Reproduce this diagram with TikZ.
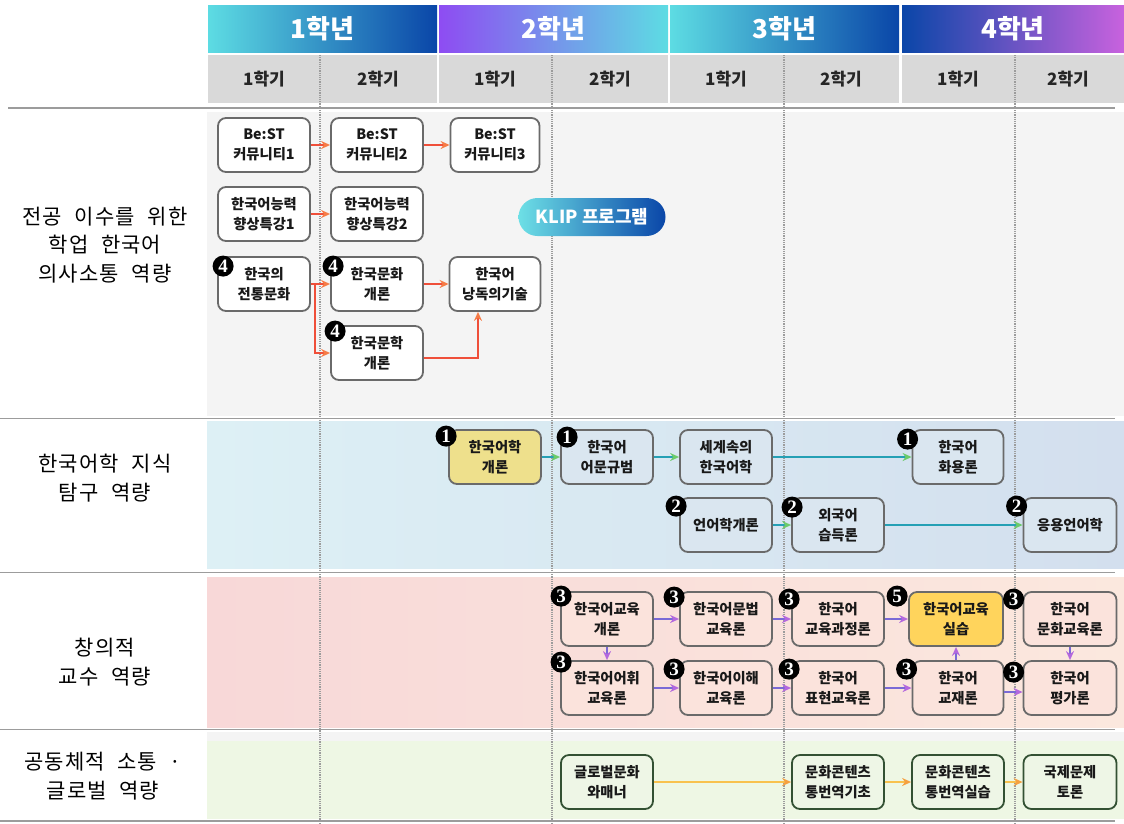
\documentclass[tikz,border=0pt]{standalone}
\usepackage{fontspec}
\setmainfont{Noto Sans CJK KR}
\newfontfamily\labelfont{Noto Sans CJK KR}[LetterSpace=5,WordSpace=2.2]
\newfontfamily\numfont{Liberation Serif}
\usetikzlibrary{arrows.meta, positioning}

\definecolor{boxgray}{HTML}{6A6A6A}
\definecolor{headgray}{HTML}{D9D9D9}
\definecolor{rulegray}{HTML}{9C9C9C}
\definecolor{aqua}{HTML}{5DDCE3}
\definecolor{navyblue}{HTML}{0A46A8}
\definecolor{yrviolet}{HTML}{8E4CF2}
\definecolor{orchid}{HTML}{C862DE}
\definecolor{bandgray}{HTML}{F4F4F4}
\definecolor{bluel}{HTML}{DDF0F5}
\definecolor{bluer}{HTML}{D3DFEE}
\definecolor{pinkl}{HTML}{F8D8D8}
\definecolor{pinkr}{HTML}{FBE8DE}
\definecolor{greenbg}{HTML}{EEF7E4}
\definecolor{bluebox}{HTML}{DAE6F0}
\definecolor{pinkbox}{HTML}{FBE3DC}
\definecolor{greenbox}{HTML}{EEF6E6}
\definecolor{khaki}{HTML}{EEE08C}
\definecolor{gold}{HTML}{FFD45C}
\definecolor{redline}{HTML}{EF4F3A}
\definecolor{redtip}{HTML}{F67C46}
\definecolor{tealline}{HTML}{25A0B5}
\definecolor{greentip}{HTML}{6CCB6A}
\definecolor{purpline}{HTML}{7A6AD6}
\definecolor{purptip}{HTML}{B468DE}
\definecolor{yellowline}{HTML}{F8C24E}
\definecolor{orangetip}{HTML}{F5A040}

\begin{document}
\begin{tikzpicture}[x=1pt, y=-1pt, on grid,
    course/.style={draw=boxgray, line width=1.8pt, rounded corners=8pt, fill=white,
      minimum width=92pt, minimum height=54pt, align=center, inner sep=1pt,
      text=black!90, font=\bfseries\fontsize{14.3}{20}\selectfont},
    badge/.style={circle, fill=black, text=white, inner sep=0pt, minimum size=21pt,
      font=\numfont\bfseries\fontsize{19}{19}\selectfont},
    yearbox/.style={minimum width=229pt, minimum height=47pt, inner sep=0pt,
      text=white, font=\bfseries\fontsize{26}{26}\selectfont},
    semrow/.style={fill=headgray, minimum width=229pt, minimum height=48pt, inner sep=0pt},
    semtext/.style={font=\bfseries\fontsize{17}{17}\selectfont, text=black!85},
    area/.style={align=center, font=\labelfont\fontsize{21}{28.5}\selectfont},
    klip/.style={rounded corners=19pt, left color=aqua!90, right color=navyblue,
      minimum width=147pt, minimum height=38pt, text=white,
      font=\bfseries\fontsize{18}{18}\selectfont},
    redarr/.style={draw=redline, line width=1.6pt, -{Stealth[length=9pt,width=8pt,color=redtip]}},
    greenarr/.style={draw=tealline, line width=1.6pt, -{Stealth[length=9pt,width=8pt,color=greentip]}},
    purparr/.style={draw=purpline, line width=1.6pt, -{Stealth[length=9pt,width=8pt,color=purptip]}},
    yellowarr/.style={draw=yellowline, line width=1.6pt, -{Stealth[length=9pt,width=8pt,color=orangetip]}}]
  \useasboundingbox (0,0) rectangle (1124,823);

  % bands
  \fill[bandgray] (207,112) rectangle (1124,416);
  \fill[left color=bluel, right color=bluer] (207,421) rectangle (1124,568);
  \fill[left color=pinkl, right color=pinkr] (207,577) rectangle (1124,727);
  \fill[bandgray] (207,732) rectangle (1124,741);
  \fill[greenbg] (207,741) rectangle (1124,819);

  % header
  \node[yearbox, left color=aqua, right color=navyblue] (y_1) at (322.5,28.5) {1학년};
  \node[yearbox, left color=yrviolet, right color=aqua] (y_2) at (553.5,28.5) {2학년};
  \node[yearbox, left color=aqua, right color=navyblue] (y_3) at (784.5,28.5) {3학년};
  \node[yearbox, minimum width=222pt, left color=navyblue, right color=orchid] (y_4) at (1013,28.5) {4학년};
  \foreach \cx/\w [count=\i] in {322.5/229, 553.5/229, 784.5/229, 1013/222}
    \node[semrow, minimum width=\w pt] (g_\i) at (\cx,79) {};
  \foreach \cx/\s [count=\i] in {264/1, 378/2, 495/1, 610/2, 726/1, 841/2, 958/1, 1068/2}
    \node[semtext] (s_\i) at (\cx,79) {\s 학기};

  % rules
  \foreach \gx in {320, 552, 784, 1015}
    \draw[rulegray, line width=1.2pt, densely dotted] (\gx,55) -- (\gx,823);
  \draw[rulegray, line width=1.5pt] (8,108) -- (1115,108);
  \foreach \gy in {418.5, 572.5, 729.5, 821}
    \draw[rulegray, line width=1.5pt] (0,\gy) -- (1115,\gy);

  % competences
  \node[area] (a_1) at (105,245) {전공 이수를 위한\\학업 한국어\\의사소통 역량};
  \node[area] (a_2) at (105,478) {한국어학 지식\\탐구 역량};
  \node[area] (a_3) at (105,662) {창의적\\교수 역량};
  \node[area] (a_4) at (103,776) {공동체적 소통 ·\\글로벌 역량};

  % band 1
  \node[course] (b_1) at (264,145) {Be:ST\\커뮤니티1};
  \node[course, right=113pt of b_1] (b_2) {Be:ST\\커뮤니티2};
  \node[course, minimum width=89pt, right=118pt of b_2] (b_3) {Be:ST\\커뮤니티3};
  \node[course, below=69pt of b_1] (k_1) {한국어능력\\향상특강1};
  \node[course, right=113pt of k_1] (k_2) {한국어능력\\향상특강2};
  \node[course, below=70pt of k_1] (t_1) {한국의\\전통문화};
  \node[course, right=113pt of t_1] (c_1) {한국문화\\개론};
  \node[course, minimum width=91pt, right=118pt of c_1] (r_1) {한국어\\낭독의기술};
  \node[course, below=69pt of c_1] (l_1) {한국문학\\개론};
  \node[klip] (klip) at (592,217) {KLIP 프로그램};
  \node[badge] (n_t1) at ([shift={(6,10)}]t_1.north west) {4};
  \node[badge] (n_c1) at ([shift={(3,10)}]c_1.north west) {4};
  \node[badge] (n_l1) at ([shift={(5,6)}]l_1.north west) {4};
  \draw[redarr] (b_1) -- (b_2);
  \draw[redarr] (b_2) -- (b_3);
  \draw[redarr] (k_1) -- (k_2);
  \draw[redarr] (c_1) -- (r_1);
  \coordinate (split) at ([xshift=4pt]t_1.east);
  \draw[redarr] (t_1.east) -- (c_1.west);
  \draw[redarr] (split) |- (l_1.west);
  \draw[redarr] ([yshift=-5pt]l_1.east) -| ([xshift=-17pt]r_1.south);

  % band 2
  \node[course, fill=khaki] (g_1) at (495,457) {한국어학\\개론};
  \node[course, fill=bluebox, right=112pt of g_1] (g_2) {한국어\\어문규범};
  \node[course, fill=bluebox, right=119pt of g_2] (g_3) {세계속의\\한국어학};
  \node[course, fill=bluebox, minimum width=91pt, right=232pt of g_3] (g_4) {한국어\\화용론};
  \node[course, fill=bluebox, below=68pt of g_3] (h_1) {언어학개론};
  \node[course, fill=bluebox, right=112pt of h_1] (h_2) {외국어\\습득론};
  \node[course, fill=bluebox, minimum width=93pt, right=232pt of h_2] (h_3) {응용언어학};
  \node[badge] (n_g1) at ([shift={(-2,7)}]g_1.north west) {1};
  \node[badge] (n_g2) at ([shift={(7,8)}]g_2.north west) {1};
  \node[badge] (n_g4) at ([shift={(-4,10)}]g_4.north west) {1};
  \node[badge] (n_h1) at ([shift={(-3,9)}]h_1.north west) {2};
  \node[badge] (n_h2) at ([shift={(1,10)}]h_2.north west) {2};
  \node[badge] (n_h3) at ([shift={(-6,9)}]h_3.north west) {2};
  \draw[greenarr] (g_1) -- (g_2);
  \draw[greenarr] (g_2) -- (g_3);
  \draw[greenarr] (g_3) -- (g_4);
  \draw[greenarr] (h_1) -- (h_2);
  \draw[greenarr] (h_2) -- (h_3);

  % band 3
  \node[course, fill=pinkbox] (p_1) at (607,619) {한국어교육\\개론};
  \node[course, fill=pinkbox, right=119pt of p_1] (p_2) {한국어문법\\교육론};
  \node[course, fill=pinkbox, right=112pt of p_2] (p_3) {한국어\\교육과정론};
  \node[course, fill=gold, minimum width=94pt, right=118pt of p_3] (p_4) {한국어교육\\실습};
  \node[course, fill=pinkbox, minimum width=93pt, right=114pt of p_4] (p_5) {한국어\\문화교육론};
  \node[course, fill=pinkbox, below=69pt of p_1] (q_1) {한국어어휘\\교육론};
  \node[course, fill=pinkbox, below=69pt of p_2] (q_2) {한국어이해\\교육론};
  \node[course, fill=pinkbox, below=69pt of p_3] (q_3) {한국어\\표현교육론};
  \node[course, fill=pinkbox, minimum width=91pt, right=120pt of q_3] (q_4) {한국어\\교재론};
  \node[course, fill=pinkbox, minimum width=93pt, right=112pt of q_4] (q_5) {한국어\\평가론};
  \node[badge] (n_p1) at ([shift={(1,5)}]p_1.north west) {3};
  \node[badge] (n_p2) at ([shift={(-5,6)}]p_2.north west) {3};
  \node[badge] (n_p3) at ([shift={(-2,8)}]p_3.north west) {3};
  \node[badge] (n_p4) at ([shift={(-11,5)}]p_4.north west) {5};
  \node[badge] (n_p5) at ([shift={(-9,8)}]p_5.north west) {3};
  \node[badge] (n_q1) at ([shift={(1,2)}]q_1.north west) {3};
  \node[badge] (n_q2) at ([shift={(-5,9)}]q_2.north west) {3};
  \node[badge] (n_q3) at ([shift={(-2,9)}]q_3.north west) {3};
  \node[badge] (n_q4) at ([shift={(-5,9)}]q_4.north west) {3};
  \node[badge] (n_q5) at ([shift={(-9,12)}]q_5.north west) {3};
  \draw[purparr] (p_1) -- (p_2);
  \draw[purparr] (p_2) -- (p_3);
  \draw[purparr] (p_3) -- (p_4);
  \draw[purparr] (p_1) -- (q_1);
  \draw[purparr] (q_1) -- (q_2);
  \draw[purparr] (q_2) -- (q_3);
  \draw[purparr] (q_3) -- (q_4);
  \draw[purparr] (q_4.north -| p_4) -- (p_4);
  \draw[purparr] ([yshift=-4pt]q_4.east) -- ([yshift=-4pt]q_5.west);
  \draw[purparr] (p_5) -- (q_5);

  % band 4
  \node[course, draw=boxgray!80!green!60!black, fill=greenbox] (w_1) at (607,782) {글로벌문화\\와매너};
  \node[course, draw=boxgray!80!green!60!black, fill=greenbox, right=231pt of w_1] (w_2) {문화콘텐츠\\통번역기초};
  \node[course, draw=boxgray!80!green!60!black, fill=greenbox, right=120pt of w_2] (w_3) {문화콘텐츠\\통번역실습};
  \node[course, draw=boxgray!80!green!60!black, fill=greenbox, minimum width=93pt, right=112pt of w_3] (w_4) {국제문제\\토론};
  \draw[yellowarr] (w_1) -- (w_2);
  \draw[yellowarr] (w_2) -- (w_3);
  \draw[yellowarr] (w_3) -- (w_4);
\end{tikzpicture}
\end{document}
